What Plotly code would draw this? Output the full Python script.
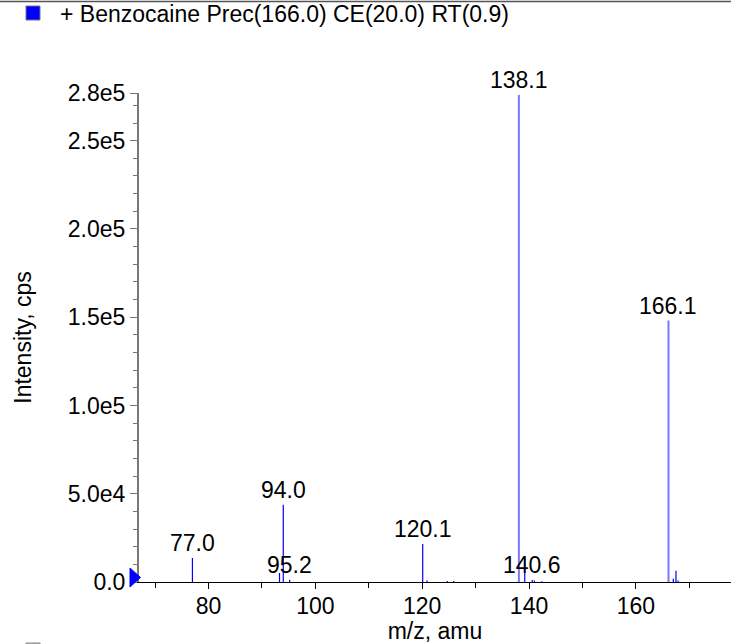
import plotly.graph_objects as go

# ---- data ----
major_mz = [138.1, 166.1]
major_int = [275800, 148100]

minor_mz = [77.0, 93.3, 94.0, 95.2, 120.1, 120.9, 124.7, 125.9,
            139.2, 140.6, 141.0, 142.4, 167.0, 167.5, 167.9]
minor_int = [13600, 5100, 43800, 1300, 21500, 800, 500, 600,
             13900, 1200, 800, 400, 1900, 6400, 800]

label_mz = [77.0, 94.0, 95.2, 120.1, 138.1, 140.6, 166.1]
label_int = [13600, 43800, 1300, 21500, 275800, 1200, 148100]
label_txt = ["77.0", "94.0", "95.2", "120.1", "138.1", "140.6", "166.1"]

y_tickvals = [0, 50000, 100000, 150000, 200000, 250000, 277000]
y_ticktext = ["0.0", "5.0e4", "1.0e5", "1.5e5", "2.0e5", "2.5e5", "2.8e5"]
x_tickvals = [80, 100, 120, 140, 160]

title_text = "+ Benzocaine Prec(166.0) CE(20.0) RT(0.9)"

W, H = 731, 644
L, R, T, B = 139, 0, 93, 62
PW, PH = W - L - R, H - T - B


def px_x(p):
    return (p - L) / PW


def px_y(p):
    return (H - B - p) / PH


def stems(xs, ys):
    sx, sy = [], []
    for x, y in zip(xs, ys):
        sx += [x, x, None]
        sy += [0, y, None]
    return sx, sy


FONT = "Liberation Sans, Arial, Helvetica, sans-serif"
FS = 23

fig = go.Figure()
mx, my = stems(minor_mz, minor_int)
fig.add_trace(go.Scatter(x=mx, y=my, mode="lines",
                         line=dict(color="#0000ff", width=1.2),
                         hoverinfo="skip", showlegend=False))
Mx, My = stems(major_mz, major_int)
fig.add_trace(go.Scatter(x=Mx, y=My, mode="lines",
                         line=dict(color="#7878ff", width=2),
                         hoverinfo="skip", showlegend=False))

for x, y, t in zip(label_mz, label_int, label_txt):
    fig.add_annotation(x=x, y=y, text=t, showarrow=False, xanchor="center",
                       yanchor="bottom", yshift=0,
                       font=dict(family=FONT, size=FS, color="black"))

# legend-like header
fig.add_shape(type="rect", xref="paper", yref="paper",
              x0=px_x(26), x1=px_x(40), y0=px_y(20), y1=px_y(6),
              fillcolor="#0000ff", line=dict(color="#777777", width=1))
fig.add_annotation(xref="paper", yref="paper", x=px_x(58), y=px_y(14),
                   text=title_text, showarrow=False, xanchor="left",
                   yanchor="middle",
                   font=dict(family=FONT, size=FS, color="black"))
fig.add_shape(type="line", xref="paper", yref="paper",
              x0=px_x(0), x1=px_x(W), y0=px_y(1.5), y1=px_y(1.5),
              line=dict(color="#555555", width=1.5))
# cut-off second legend square at bottom
fig.add_shape(type="rect", xref="paper", yref="paper",
              x0=px_x(26), x1=px_x(40), y0=px_y(650), y1=px_y(643),
              fillcolor="#bbbbbb", line=dict(color="#888888", width=1))
# origin marker triangle
fig.add_shape(type="path", xref="paper", yref="paper",
              path="M {} {} L {} {} L {} {} Z".format(
                  px_x(130), px_y(568), px_x(130), px_y(587),
                  px_x(140.5), px_y(577.5)),
              fillcolor="#0000ff", line=dict(color="#0000ff", width=1))

fig.update_layout(
    width=W, height=H,
    margin=dict(l=L, r=R, t=T, b=B, autoexpand=False),
    paper_bgcolor="white", plot_bgcolor="white",
    font=dict(family=FONT, size=FS, color="black"),
    showlegend=False,
)
fig.update_xaxes(
    range=[67.0, 177.8], tickmode="array", tickvals=x_tickvals,
    ticks="outside", ticklen=6, tickwidth=1, tickcolor="black",
    showline=True, linecolor="black", linewidth=1,
    showgrid=False, zeroline=False, ticklabelstandoff=-3,
    minor=dict(dtick=10, tick0=0, ticks="outside", ticklen=5,
               tickcolor="black", tickwidth=1),
    tickfont=dict(family=FONT, size=FS),
    title=dict(text="m/z, amu", standoff=6,
               font=dict(family=FONT, size=FS)),
)
fig.update_yaxes(
    range=[0, 277000], tickmode="array", tickvals=y_tickvals,
    ticktext=y_ticktext,
    ticks="outside", ticklen=7, tickwidth=1, tickcolor="#777777",
    showline=True, linecolor="#777777", linewidth=2,
    showgrid=False, zeroline=False,
    minor=dict(dtick=10000, tick0=0, ticks="outside", ticklen=4,
               tickcolor="#777777", tickwidth=1),
    tickfont=dict(family=FONT, size=FS),
    title=dict(text="Intensity, cps", standoff=30,
               font=dict(family=FONT, size=FS)),
)

fig.write_html("out.html",
               config={"displayModeBar": False},
               post_script="document.body.style.margin='0';"
                           "document.body.style.overflow='hidden';")
